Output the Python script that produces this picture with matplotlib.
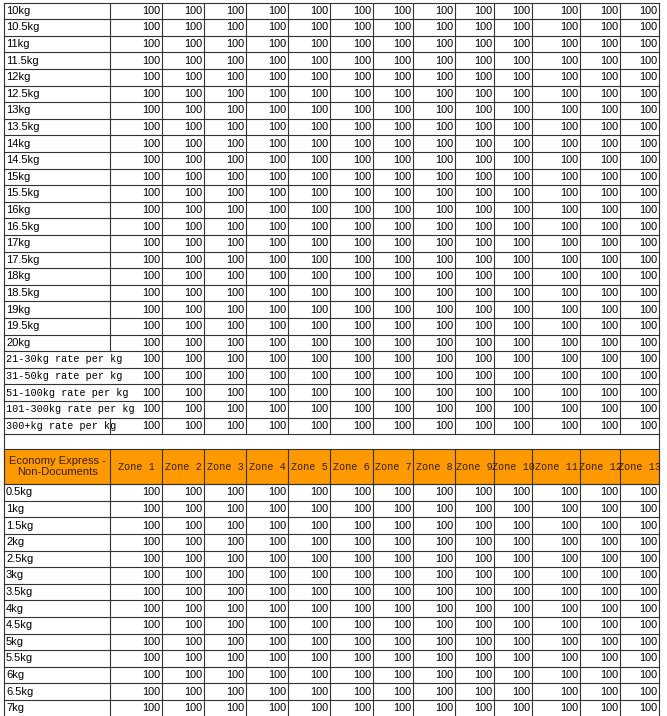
import matplotlib.pyplot as plt

weights_top = [f"{w:g}kg" for w in [10,10.5,11,11.5,12,12.5,13,13.5,14,14.5,15,15.5,16,16.5,17,17.5,18,18.5,19,19.5,20]]
rate_rows = ["21-30kg rate per kg","31-50kg rate per kg","51-100kg rate per kg","101-300kg rate per kg","300+kg rate per kg"]
zones = [f"Zone {i}" for i in range(1,14)]
header_title = "Economy Express -\nNon-Documents"
weights_bottom = [f"{w:g}kg" for w in [0.5,1,1.5,2,2.5,3,3.5,4,4.5,5,5.5,6,6.5,7]]
values_top = [[100]*13 for _ in weights_top + rate_rows]
values_bottom = [[100]*13 for _ in weights_bottom]

W, H = 667, 716
fig = plt.figure(figsize=(W/100, H/100), dpi=100)
ax = fig.add_axes([0,0,1,1])
ax.set_xlim(0, W); ax.set_ylim(H, 0); ax.axis('off')

xs = [4,110,162,204,246,288,330,373,413,455,494,532,580,620,659]
rh = 16.6
lc = '#333333'
sans = ['Liberation Sans','DejaVu Sans']
mono = ['Liberation Mono','DejaVu Sans Mono']

def data_rows(labels, vals, y, rate=False):
    for i,(lab,row) in enumerate(zip(labels, vals)):
        top = y + i*rh
        ax.plot([xs[0], xs[-1]], [top, top], color=lc, lw=0.8)
        isr = rate and lab in rate_rows
        overflow = isr and lab != rate_rows[-1]
        ax.text(xs[0]+2, top+rh/2, lab, ha='left', va='center',
                fontsize=7.3 if isr else 8, family=mono if isr else sans, color='black')
        for j,v in enumerate(row):
            ax.text(xs[j+2]-2, top+rh/2, str(v), ha='right', va='center', fontsize=7.8, family=sans)
        for k,x in enumerate(xs):
            if overflow and k == 1:
                continue
            ax.plot([x,x],[top,top+rh], color=lc, lw=0.8)
    end = y + len(labels)*rh
    ax.plot([xs[0], xs[-1]], [end, end], color=lc, lw=0.8)
    return end

y = data_rows(weights_top + rate_rows, values_top, 2.5, rate=True)
ax.plot([xs[0]]*2, [y, y+15], color=lc, lw=0.8)
ax.plot([xs[-1]]*2, [y, y+15], color=lc, lw=0.8)
y += 15
hh = 35
ax.add_patch(plt.Rectangle((xs[0], y), xs[-1]-xs[0], hh, facecolor='#FF9900', edgecolor=lc, lw=0.8))
ax.text((xs[0]+xs[1])/2, y+hh/2, header_title, ha='center', va='center', fontsize=8, family=sans, color='#3a2000', linespacing=1.2)
for j,z in enumerate(zones):
    ax.text((xs[j+1]+xs[j+2])/2, y+hh/2, z, ha='center', va='center', fontsize=7.3, family=mono, color='#3a2000')
for x in xs:
    ax.plot([x,x],[y,y+hh], color=lc, lw=0.8)
y += hh
data_rows(weights_bottom, values_bottom, y)

fig.savefig('out.png', dpi=100)
